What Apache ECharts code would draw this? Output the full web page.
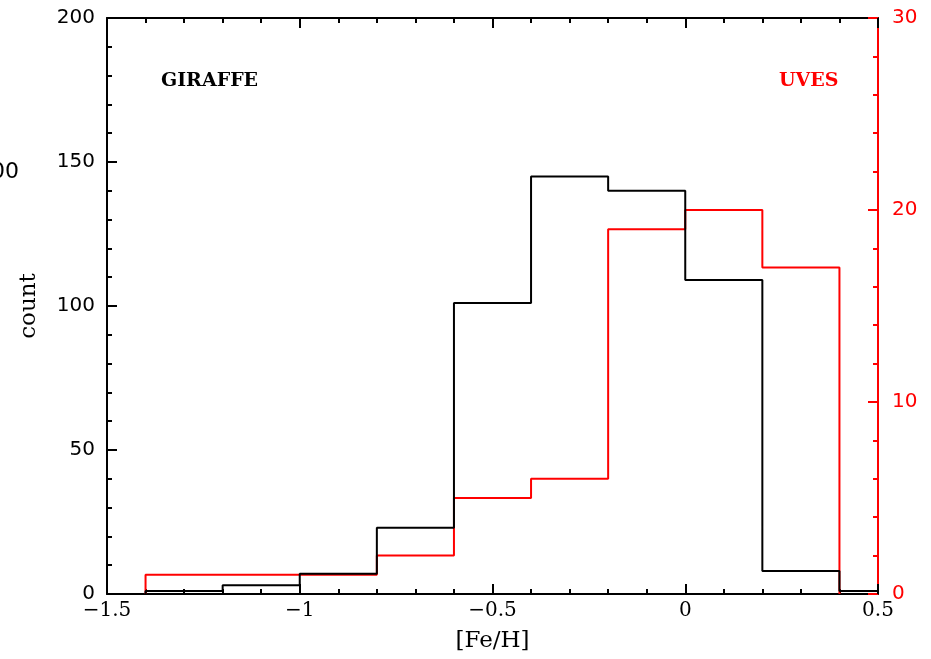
<!DOCTYPE html>
<html>
<head>
<meta charset="utf-8">
<script src="https://cdn.jsdelivr.net/npm/echarts@6/dist/echarts.min.js"></script>
<style>
  html, body { margin: 0; padding: 0; background: #fff; }
  #main { width: 931px; height: 659px; }
</style>
</head>
<body>
<div id="main"></div>
<script>
// bin edges of [Fe/H] (width 0.2)
var binEdges = [-1.4, -1.2, -1.0, -0.8, -0.6, -0.4, -0.2, 0.0, 0.2, 0.4, 0.6];
// GIRAFFE counts (left axis)
var giraffeCounts = [1, 3, 7, 23, 101, 145, 140, 109, 8, 1];
// UVES counts (right axis), last bin ends at 0.4
var uvesCounts = [1, 1, 1, 2, 5, 6, 19, 20, 17];

// turn bins into a stepped outline
function outline(edges, counts) {
  var pts = [[edges[0], 0]];
  for (var i = 0; i < counts.length; i++) {
    pts.push([edges[i], counts[i]]);
    pts.push([edges[i + 1], counts[i]]);
  }
  pts.push([edges[counts.length], 0]);
  return pts;
}

var serif = 'DejaVu Serif';
var sans = 'DejaVu Sans';

var myChart = echarts.init(document.getElementById('main'));
var option = {
  animation: false,
  backgroundColor: '#fff',
  grid: { left: 107, right: 53, top: 18, bottom: 65, containLabel: false },
  xAxis: [{
    type: 'value',
    position: 'bottom',
    min: -1.5, max: 0.5, interval: 0.5,
    name: '[Fe/H]',
    nameLocation: 'middle',
    nameGap: 36,
    nameTextStyle: { color: '#000', fontFamily: serif, fontSize: 23 },
    axisLine: { show: true, onZero: false, lineStyle: { color: '#000', width: 2 } },
    axisTick: { show: true, inside: true, length: 10, lineStyle: { color: '#000', width: 2 } },
    minorTick: { show: true, splitNumber: 5, length: 5, lineStyle: { color: '#000', width: 2 } },
    axisLabel: { color: '#000', fontFamily: serif, fontSize: 20, margin: 7,
      formatter: function (v) { return v < 0 ? '\u2212' + Math.abs(v) : String(v); } },
    splitLine: { show: false }
  }, {
    type: 'value',
    position: 'top',
    min: -1.5, max: 0.5, interval: 0.5,
    axisLine: { show: true, onZero: false, lineStyle: { color: '#000', width: 2 } },
    axisTick: { show: true, inside: true, length: 10, lineStyle: { color: '#000', width: 2 } },
    minorTick: { show: true, splitNumber: 5, length: 5, lineStyle: { color: '#000', width: 2 } },
    axisLabel: { show: false },
    splitLine: { show: false }
  }],
  yAxis: [{
    type: 'value',
    position: 'left',
    min: 0, max: 200, interval: 50,
    name: 'count',
    nameLocation: 'middle',
    nameGap: 66,
    nameRotate: 90,
    nameTextStyle: { color: '#000', fontFamily: serif, fontSize: 23 },
    axisLine: { show: true, onZero: false, lineStyle: { color: '#000', width: 2 } },
    axisTick: { show: true, inside: true, length: 10, lineStyle: { color: '#000', width: 2 } },
    minorTick: { show: true, splitNumber: 5, length: 5, lineStyle: { color: '#000', width: 2 } },
    axisLabel: { color: '#000', fontFamily: sans, fontSize: 20, margin: 12, verticalAlign: 'middle', padding: [4, 0, 0, 0] },
    splitLine: { show: false }
  }, {
    type: 'value',
    position: 'right',
    min: 0, max: 30, interval: 10,
    axisLine: { show: true, onZero: false, lineStyle: { color: '#ff0000', width: 2 } },
    axisTick: { show: true, inside: true, length: 10, lineStyle: { color: '#ff0000', width: 2 } },
    minorTick: { show: true, splitNumber: 5, length: 5, lineStyle: { color: '#ff0000', width: 2 } },
    axisLabel: { color: '#ff0000', fontFamily: sans, fontSize: 20, margin: 14, padding: [4, 0, 0, 0] },
    splitLine: { show: false }
  }],
  series: [{
    name: 'GIRAFFE',
    type: 'line',
    xAxisIndex: 0,
    yAxisIndex: 0,
    data: outline(binEdges, giraffeCounts),
    showSymbol: false,
    clip: true,
    lineStyle: { color: '#000', width: 2 },
    z: 3
  }, {
    name: 'UVES',
    type: 'line',
    xAxisIndex: 0,
    yAxisIndex: 1,
    data: outline(binEdges, uvesCounts),
    showSymbol: false,
    clip: true,
    lineStyle: { color: '#ff0000', width: 2 },
    z: 2
  }],
  graphic: [{
    type: 'text', left: 161, top: 72,
    style: { text: 'GIRAFFE', fill: '#000', font: 'bold 19px "DejaVu Serif"' }
  }, {
    type: 'text', left: 779, top: 72,
    style: { text: 'UVES', fill: '#ff0000', font: 'bold 19px "DejaVu Serif"' }
  }, {
    type: 'text', x: 19, y: 161,
    style: { text: '100', fill: '#000', font: '22px "DejaVu Sans"', align: 'right' }
  }]
};
myChart.setOption(option);
</script>
</body>
</html>
